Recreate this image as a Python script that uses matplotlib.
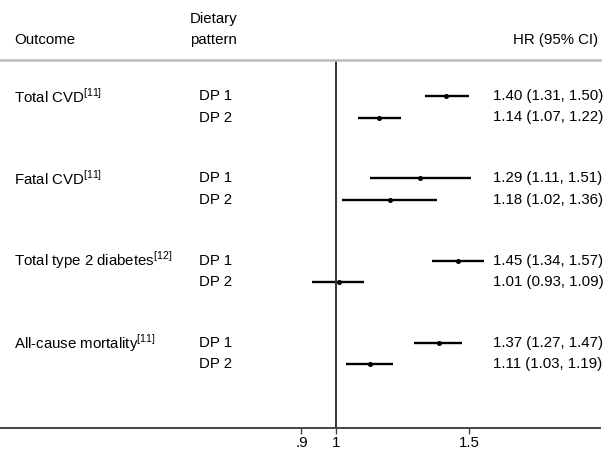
import matplotlib.pyplot as plt
import matplotlib.transforms as mtransforms
import numpy as np

plt.rcParams['font.family'] = ['Liberation Sans', 'DejaVu Sans']
plt.rcParams['mathtext.fontset'] = 'custom'
plt.rcParams['mathtext.rm'] = 'Liberation Sans'

outcomes = ["Total CVD$^{\\mathrm{[11]}}$", "Fatal CVD$^{\\mathrm{[11]}}$",
            "Total type 2 diabetes$^{\\mathrm{[12]}}$", "All-cause mortality$^{\\mathrm{[11]}}$"]
patterns = ["DP 1", "DP 2"]

hr = [[1.40, 1.14], [1.29, 1.18], [1.45, 1.01], [1.37, 1.11]]
lo = [[1.31, 1.07], [1.11, 1.02], [1.34, 0.93], [1.27, 1.03]]
hi = [[1.50, 1.22], [1.51, 1.36], [1.57, 1.09], [1.47, 1.19]]

ticks = [0.9, 1, 1.5]
tick_labels = [".9", "1", "1.5"]

W, H = 606, 455
FS = 10.8
fig = plt.figure(figsize=(W / 100, H / 100), dpi=100)
ax = fig.add_axes([0, (H - 428) / H, 600 / W, 368 / H])

ax.set_xscale('log')
px_per_ln = 328.0
ax.set_xlim(np.exp(-336 / px_per_ln), np.exp((600 - 336) / px_per_ln))
ax.set_ylim(368, 0)

# x in figure pixels, y in data
trans = mtransforms.blended_transform_factory(fig.transFigure, ax.transData)

for g in range(len(outcomes)):
    for r in range(len(patterns)):
        y = 36 + g * 82.3 + r * 21.5
        ax.plot([lo[g][r], hi[g][r]], [y, y], color='black', lw=1.7, solid_capstyle='butt')
        ax.plot(hr[g][r], y, 'o', color='black', ms=2.6)
        ax.text(493 / W, y, f"{hr[g][r]:.2f} ({lo[g][r]:.2f}, {hi[g][r]:.2f})",
                transform=trans, ha='left', va='center', fontsize=FS, clip_on=False)
        ax.text(199 / W, y, patterns[r], transform=trans, ha='left', va='center',
                fontsize=FS, clip_on=False)
        if r == 0:
            ax.text(14 / W, y, outcomes[g], transform=trans, ha='left', va='center',
                    fontsize=FS, clip_on=False)

ax.axvline(1, color='#333333', lw=1.4)

for s in ['left', 'right']:
    ax.spines[s].set_visible(False)
ax.spines['top'].set_color('#bbbbbb')
ax.spines['top'].set_linewidth(1.8)
ax.spines['bottom'].set_color('#444444')
ax.spines['bottom'].set_linewidth(1.4)

ax.set_yticks([])
ax.set_xticks(ticks)
ax.set_xticklabels(tick_labels)
ax.minorticks_off()
ax.tick_params(axis='x', direction='out', length=4, width=1, color='#444444',
               labelsize=FS, pad=2)

fig.text(14 / W, 1 - 40 / H, "Outcome", ha='left', va='center', fontsize=FS)
fig.text(190 / W, 1 - 19 / H, "Dietary", ha='left', va='center', fontsize=FS)
fig.text(190 / W, 1 - 40 / H, "pattern", ha='left', va='center', fontsize=FS)
fig.text(513 / W, 1 - 40 / H, "HR (95% CI)", ha='left', va='center', fontsize=FS)

fig.savefig('out.png', dpi=100)
